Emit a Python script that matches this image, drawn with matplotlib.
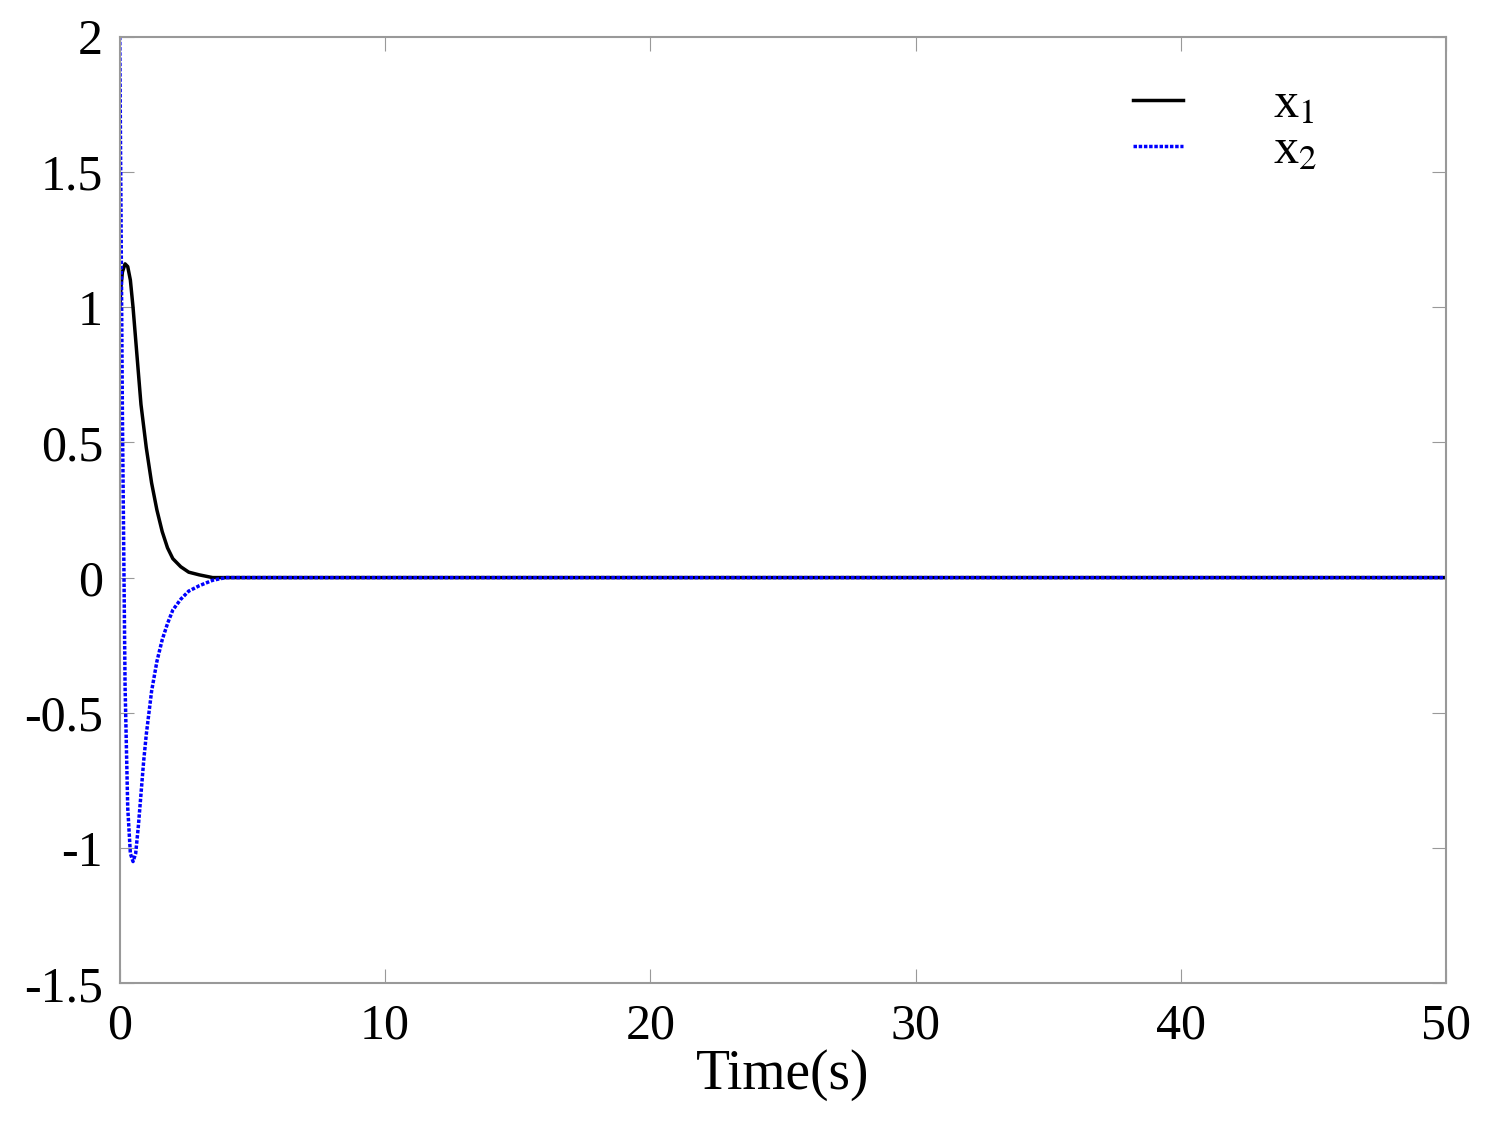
import matplotlib
matplotlib.use("Agg")
import matplotlib.pyplot as plt

# values (transient, then flat at zero)
t = [0.0, 0.05, 0.1, 0.2, 0.3, 0.4, 0.5, 0.6, 0.7, 0.8, 0.9, 1.0, 1.2, 1.4, 1.6,
     1.8, 2.0, 2.3, 2.6, 3.0, 3.5, 4.0, 5.0, 10.0, 50.0]
x1 = [1.00, 1.08, 1.13, 1.16, 1.15, 1.10, 1.00, 0.88, 0.76, 0.64, 0.56, 0.48, 0.35,
      0.25, 0.17, 0.11, 0.07, 0.04, 0.02, 0.01, 0.0, 0.0, 0.0, 0.0, 0.0]
x2 = [2.00, 1.30, 0.60, -0.40, -0.85, -1.02, -1.05, -1.02, -0.92, -0.80, -0.68, -0.58,
      -0.42, -0.31, -0.23, -0.17, -0.12, -0.08, -0.05, -0.03, -0.01, 0.0, 0.0, 0.0, 0.0]

plt.rcParams["font.family"] = ["Liberation Serif", "DejaVu Serif"]
plt.rcParams["mathtext.fontset"] = "stix"

fig, ax = plt.subplots(figsize=(14.97, 11.46), dpi=100)
ax.plot(t, x1, color="black", lw=2.5, label="x$_1$")
ax.plot(t, x2, color="blue", lw=2.5, ls=(0, (1, 0.5)), label="x$_2$")

ax.set_xlim(0, 50)
ax.set_ylim(-1.5, 2)
ax.set_xticks([0, 10, 20, 30, 40, 50])
ax.set_yticks([-1.5, -1, -0.5, 0, 0.5, 1, 1.5, 2])
ax.set_yticklabels(["-1.5", "-1", "-0.5", "0", "0.5", "1", "1.5", "2"])
ax.tick_params(labelsize=36, direction="in", length=10, color="#999999",
               top=True, right=True)
ax.tick_params(axis="x", pad=14)
ax.tick_params(axis="y", pad=12)
for s in ax.spines.values():
    s.set_color("#999999")
    s.set_linewidth(1.5)
ax.set_xlabel("Time(s)", fontsize=40, labelpad=0)
ax.legend(loc="upper left", bbox_to_anchor=(0.73, 1.0), fontsize=36,
          frameon=False, handlelength=1.0, handletextpad=1.8, labelspacing=0.0)

fig.subplots_adjust(left=0.08, right=0.966, top=0.968, bottom=0.142)
fig.savefig("out.png", dpi=100)
